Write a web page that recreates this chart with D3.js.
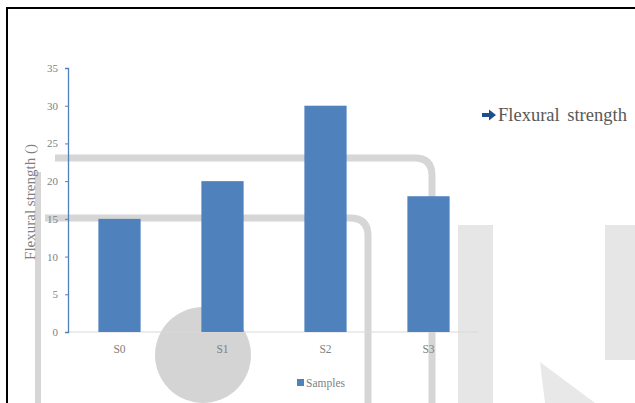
<!DOCTYPE html>
<html>
<head>
<meta charset="utf-8">
<script src="https://cdn.jsdelivr.net/npm/d3@7"></script>
<style>
  html, body { margin: 0; padding: 0; background: #fff; }
  svg { display: block; }
</style>
</head>
<body>
<svg id="chart" width="635" height="403"></svg>
<script>
const categories = ["S0", "S1", "S2", "S3"];
const values = [15, 20, 30, 18];
const yTicks = [0, 5, 10, 15, 20, 25, 30, 35];
const seriesName = "Samples";
const yTitle = "Flexural strength ()";
const sideLegend = "Flexural strength";

const svg = d3.select("#chart");
const W = 635, H = 403;
const barColor = "#4f81bd";
const textColor = "#7f7f7f";
const font = "'Liberation Serif', 'Times New Roman', serif";

svg.append("rect").attr("x", 0).attr("y", 0).attr("width", W).attr("height", H).attr("fill", "#fff");

// watermark (background decoration)
const wm = svg.append("g").attr("fill", "none").attr("stroke", "#d6d6d6");
wm.append("path").attr("d", "M55,158 H415 Q432,158 432,176 V403").attr("stroke-width", 7);
wm.append("path").attr("d", "M45,218 H350 Q368,218 368,236 V403").attr("stroke-width", 7);
wm.append("path").attr("d", "M38,172 V403").attr("stroke-width", 6);
svg.append("circle").attr("cx", 203).attr("cy", 355).attr("r", 48).attr("fill", "#d4d4d4");
svg.append("rect").attr("x", 458).attr("y", 225).attr("width", 35).attr("height", 178).attr("fill", "#e6e6e6");
svg.append("rect").attr("x", 605).attr("y", 225).attr("width", 30).attr("height", 135).attr("fill", "#e6e6e6");
svg.append("path").attr("d", "M540,362 L545,403 L595,403 Z").attr("fill", "#e8e8e8");

const x = d3.scaleBand().domain(categories).range([68, 480]).paddingInner(0.59).paddingOuter(0.295);
const y = d3.scaleLinear().domain([0, 35]).range([332, 68]);

svg.append("line").attr("x1", 68).attr("x2", 478).attr("y1", y(0)).attr("y2", y(0))
  .attr("stroke", "#d9d9d9").attr("stroke-width", 1);

svg.append("g").selectAll("rect").data(values).join("rect")
  .attr("x", (d, i) => x(categories[i]))
  .attr("y", d => y(d))
  .attr("width", x.bandwidth())
  .attr("height", d => y(0) - y(d))
  .attr("fill", barColor);

const yAxis = svg.append("g").attr("transform", "translate(68,0)")
  .call(d3.axisLeft(y).tickValues(yTicks).tickSize(3).tickPadding(7));
yAxis.select(".domain").attr("stroke", barColor).attr("stroke-width", 1.3);
yAxis.selectAll(".tick line").attr("stroke", barColor);
yAxis.selectAll(".tick text").attr("fill", textColor).attr("font-family", font).attr("font-size", 11);

const xAxis = svg.append("g").attr("transform", `translate(0,${y(0)})`)
  .call(d3.axisBottom(x).tickSize(0).tickPadding(13));
xAxis.select(".domain").remove();
xAxis.selectAll(".tick text").attr("fill", textColor).attr("font-family", font).attr("font-size", 11.5);

svg.append("text").attr("transform", "translate(35,202) rotate(-90)")
  .attr("text-anchor", "middle").attr("fill", textColor)
  .attr("font-family", font).attr("font-size", 15).text(yTitle);

// side legend
svg.append("path").attr("d", "M482,113 h7 v-3.5 l7,5.5 l-7,5.5 v-3.5 h-7 Z").attr("fill", "#1f4e8c");
svg.append("text").attr("x", 498).attr("y", 121).attr("fill", "#595959")
  .attr("font-family", font).attr("font-size", 18.5).attr("word-spacing", 3).text(sideLegend);

// bottom legend
svg.append("rect").attr("x", 297).attr("y", 379).attr("width", 7).attr("height", 7).attr("fill", barColor);
svg.append("text").attr("x", 306).attr("y", 387).attr("fill", textColor)
  .attr("font-family", font).attr("font-size", 11.5).text(seriesName);

svg.append("line").attr("x1", 6).attr("x2", W).attr("y1", 8).attr("y2", 8).attr("stroke", "#000").attr("stroke-width", 2);
svg.append("line").attr("x1", 7).attr("x2", 7).attr("y1", 8).attr("y2", H).attr("stroke", "#000").attr("stroke-width", 2);
</script>
</body>
</html>
